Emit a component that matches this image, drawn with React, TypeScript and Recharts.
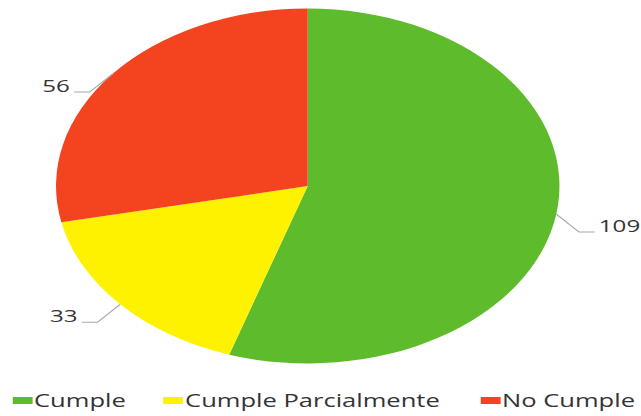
import React from 'react';
import { PieChart, Pie, Cell, Legend } from 'recharts';

const CATEGORIES = ['Cumple', 'Cumple Parcialmente', 'No Cumple'];
const VALUES = [109, 33, 56];
const COLORS = ['#5dbb2c', '#fff200', '#f4431f'];

const data = CATEGORIES.map((name, i) => ({ name, value: VALUES[i] }));

// the scanned chart is stretched sideways, so draw narrow and scale it out
const INNER_W = 452;
const H = 416;
const STRETCH = 641 / INNER_W;
const FONT = '"Open Sans", sans-serif';
const RAD = Math.PI / 180;

const LEGEND_LEFT = [8.5, 115, 338.5];

const renderLabel = (props: any) => {
  const { cx, cy, midAngle, outerRadius, value } = props;
  const cos = Math.cos(-midAngle * RAD);
  const sin = Math.sin(-midAngle * RAD);
  const ex = cx + outerRadius * cos;
  const ey = cy + outerRadius * sin;
  const side = cos >= 0 ? 1 : -1;
  const mx = ex + side * 16;
  const my = ey + 18;
  const lx = mx + side * 11;
  return (
    <g>
      <path d={`M${ex},${ey}L${mx},${my}L${lx},${my}`} stroke="#a9a9a9" strokeWidth={1} fill="none" />
      <text
        x={lx + side * 3}
        y={my - 7}
        textAnchor={side > 0 ? 'start' : 'end'}
        dominantBaseline="central"
        fill="#333"
        fontSize={17}
        fontFamily={FONT}
      >
        {value}
      </text>
    </g>
  );
};

const renderLegend = () => (
  <div style={{ position: 'relative', width: INNER_W, height: 24 }}>
    {CATEGORIES.map((name, i) => (
      <div
        key={name}
        style={{
          position: 'absolute',
          left: LEGEND_LEFT[i],
          top: 0,
          display: 'flex',
          alignItems: 'center',
          height: 24,
          whiteSpace: 'nowrap',
        }}
      >
        <span style={{ display: 'inline-block', width: 14, height: 7, background: COLORS[i], marginRight: 1.5 }} />
        <span style={{ fontFamily: FONT, fontSize: 18, color: '#333', lineHeight: '24px' }}>{name}</span>
      </div>
    ))}
  </div>
);

export default function App() {
  return (
    <div style={{ position: 'fixed', left: 0, top: 0, width: 641, height: H, overflow: 'hidden', background: '#fff' }}>
      <div style={{ width: INNER_W, height: H, transform: `scaleX(${STRETCH})`, transformOrigin: '0 0' }}>
        <PieChart width={INNER_W} height={H} margin={{ top: 0, right: 0, bottom: 0, left: 0 }}>
          <Pie
            data={data}
            dataKey="value"
            nameKey="name"
            cx={217}
            cy={186}
            outerRadius={177.5}
            startAngle={90}
            endAngle={-270}
            stroke="none"
            label={renderLabel}
            labelLine={false}
            isAnimationActive={false}
          >
            {data.map((entry, i) => (
              <Cell key={entry.name} fill={COLORS[i]} />
            ))}
          </Pie>
          <Legend
            content={renderLegend}
            wrapperStyle={{ position: 'absolute', left: 0, top: 388, width: INNER_W, height: 24 }}
          />
        </PieChart>
      </div>
    </div>
  );
}
